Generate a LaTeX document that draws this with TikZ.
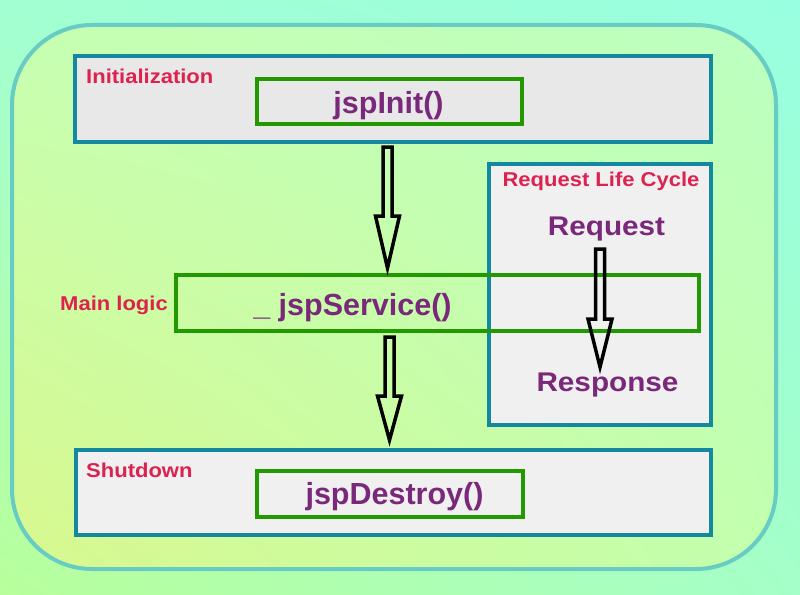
\documentclass[tikz,border=0pt]{standalone}
\usepackage{fontspec}
\setmainfont{Liberation Sans}
\newfontfamily\labfont{Liberation Sans}[FakeStretch=1.1]
\newfontfamily\fnfont{Liberation Sans}
\usetikzlibrary{calc,shadings}
\definecolor{bordteal}{RGB}{20,136,160}
\definecolor{fngreen}{RGB}{34,153,0}
\definecolor{fnpurple}{RGB}{122,40,122}
\definecolor{labred}{RGB}{221,34,80}
\definecolor{outerbd}{RGB}{102,204,196}
\definecolor{boxgrey}{RGB}{232,232,232}
\definecolor{boxlight}{RGB}{240,240,240}
\definecolor{bgul}{RGB}{162,255,210}
\definecolor{bgur}{RGB}{152,255,224}
\definecolor{bgll}{RGB}{184,255,156}
\definecolor{bglr}{RGB}{164,255,200}
\definecolor{inul}{RGB}{198,255,178}
\definecolor{inur}{RGB}{188,255,192}
\definecolor{inll}{RGB}{216,248,142}
\definecolor{inlr}{RGB}{194,255,174}
\tikzset{
  phasebox/.style={draw=bordteal, line width=4pt, inner sep=0pt, minimum width=#1},
  fnbox/.style={draw=fngreen, line width=4pt, inner sep=0pt},
  lab/.style={text=labred, inner sep=0pt, font=\labfont\bfseries\fontsize{20}{24}\selectfont},
  fntext/.style={text=fnpurple, inner sep=0pt, font=\fnfont\bfseries\fontsize{30.5}{36}\selectfont},
  rrtext/.style={text=fnpurple, inner sep=0pt, font=\labfont\bfseries\fontsize{27}{32}\selectfont},
  blockarrow/.style={draw=black, line width=3.5pt, line join=miter},
}
\newcommand\blockarr[3]{\draw[blockarrow] let \p1=#1, \p2=#2 in
  (\x1-4.5pt,\y1) -- (\x1-4.5pt,\y2+#3) -- (\x1-12pt,\y2+#3) -- (\x1,\y2)
  -- (\x1+12pt,\y2+#3) -- (\x1+4.5pt,\y2+#3) -- (\x1+4.5pt,\y1) -- cycle;}
\begin{document}
\begin{tikzpicture}[x=1pt,y=-1pt]
\useasboundingbox (0,0) rectangle (800,594);
% background
\shade[upper left=bgul, upper right=bgur, lower left=bgll, lower right=bglr]
  (0,0) rectangle (800,594);
\shade[rounded corners=80pt, upper left=inul, upper right=inur, lower left=inll, lower right=inlr]
  (12,25) rectangle (776,569);
\draw[outerbd, line width=4pt, rounded corners=80pt] (12,25) rectangle (776,569);

% phase boxes
\node[phasebox=636pt, fill=boxgrey, minimum height=86pt] (init) at (393,99) {};
\node[phasebox=635pt, fill=boxlight, minimum height=85pt] (shut) at (393.5,492.5) {};
\node[phasebox=222pt, fill=boxlight, minimum height=261pt] (rlc) at (600,294.5) {};

% function boxes
\node[fnbox, minimum width=265pt, minimum height=45pt] (initbox) at (389.5,101.5) {};
\node[fnbox, minimum width=523pt, minimum height=56pt] (svc) at (437.5,303) {};
\node[fnbox, minimum width=266pt, minimum height=46pt] (destbox) at (390,494) {};

% labels
\node[lab, anchor=base west] (initlab) at (86,83) {Initialization};
\node[lab, anchor=base west] (mainlab) at (60,310) {Main logic};
\node[lab, anchor=base west] (shutlab) at (86,477) {Shutdown};
\node[lab, anchor=base] (rlclab) at (601,186) {Request Life Cycle};

% function texts
\node[fntext, anchor=base] (initfn) at (388.5,113) {jspInit()};
\node[fntext, anchor=base] (destfn) at (394.5,504) {jspDestroy()};
\node[fntext, anchor=base] (svcfn) at (352.5,315) {\_ jspService()};
\node[rrtext, anchor=base] (req) at (606.5,235) {Request};
\node[rrtext, anchor=base] (resp) at (607.5,391) {Response};

% arrows
\blockarr{($(init.south -| 387.5,0)+(0,3)$)}{($(svc.north -| 387.5,0)+(0,-5)$)}{52pt}
\blockarr{($(svc.south -| 389.5,0)+(0,4)$)}{($(shut.north -| 389.5,0)+(0,-8)$)}{44pt}
\blockarr{($(req.base)+(-6.5,14)$)}{($(resp.base)+(-7.5,-24)$)}{48pt}
\end{tikzpicture}
\end{document}
